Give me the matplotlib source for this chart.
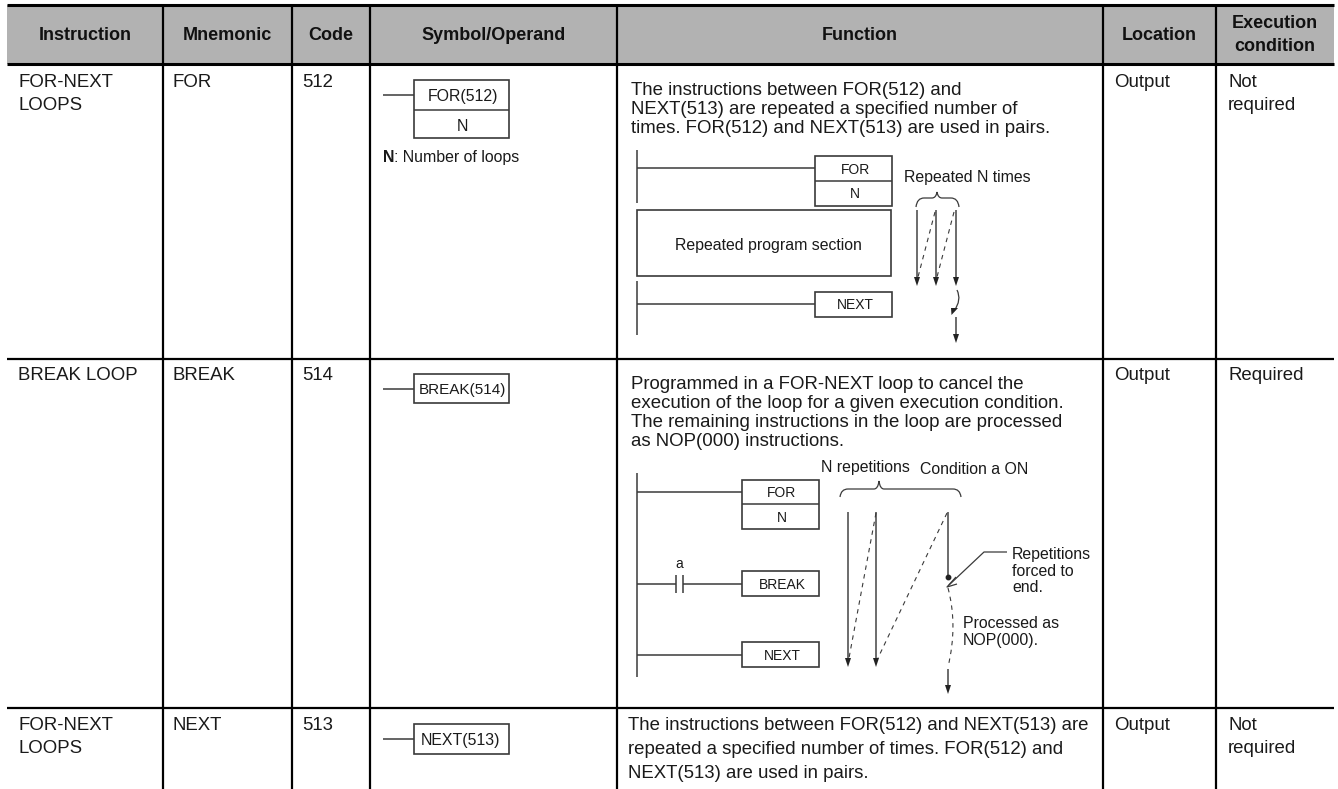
import matplotlib
matplotlib.use("Agg")
import matplotlib.pyplot as plt
from matplotlib.path import Path
from matplotlib.patches import PathPatch, Rectangle

plt.rcParams['font.family'] = ['Liberation Sans', 'DejaVu Sans']

# table content
headers = ["Instruction", "Mnemonic", "Code", "Symbol/Operand", "Function", "Location", "Execution\ncondition"]
instruction = ["FOR-NEXT\nLOOPS", "BREAK LOOP", "FOR-NEXT\nLOOPS"]
mnemonic = ["FOR", "BREAK", "NEXT"]
code = ["512", "514", "513"]
location = ["Output", "Output", "Output"]
condition = ["Not\nrequired", "Required", "Not\nrequired"]
func_1 = ["The instructions between FOR(512) and", "NEXT(513) are repeated a specified number of",
          "times. FOR(512) and NEXT(513) are used in pairs."]
func_2 = ["Programmed in a FOR-NEXT loop to cancel the", "execution of the loop for a given execution condition.",
          "The remaining instructions in the loop are processed", "as NOP(000) instructions."]
func_3 = ["The instructions between FOR(512) and NEXT(513) are", "repeated a specified number of times. FOR(512) and",
          "NEXT(513) are used in pairs."]

# table grid, pixels
col_x = [7, 163, 292, 370, 617, 1103, 1216, 1334]
row_y = [5, 64, 359, 708, 789]
row_text_y = [82, 375, 725]

fig = plt.figure(figsize=(13.38, 7.89), dpi=100)
ax = fig.add_axes([0, 0, 1, 1])
ax.set_xlim(0, 1338)
ax.set_ylim(789, 0)
ax.axis("off")

DARK = "#3a3a3a"
TXT = "#1a1a1a"
FS = 13.4
SMALL = 11.4
BOX = 10
LW = 1.1


def line(xs, ys, lw=LW, ls="-", color=DARK):
    ax.plot(xs, ys, color=color, lw=lw, ls=ls, solid_capstyle="butt", zorder=3)


def box(x0, y0, x1, y1):
    ax.add_patch(Rectangle((x0, y0), x1 - x0, y1 - y0, fc="white", ec=DARK, lw=1.2, zorder=3))


def arrow(x, y0, y1):
    line([x, x], [y0, y1 - 6], color="#444444")
    ax.fill([x - 3, x + 3, x], [y1 - 9, y1 - 9, y1], color="#222222", zorder=4, lw=0)


def brace(x0, xm, x1, y_end, y_top, y_tip):
    verts = [(x0, y_end), (x0 + 1, y_top), (x0 + 8, y_top), (xm - 5, y_top), (xm - 1, y_top), (xm, y_tip),
             (xm + 1, y_top), (xm + 5, y_top), (x1 - 8, y_top), (x1 - 1, y_top), (x1, y_end)]
    codes = [Path.MOVETO, Path.CURVE3, Path.CURVE3, Path.LINETO, Path.CURVE3, Path.CURVE3,
             Path.CURVE3, Path.CURVE3, Path.LINETO, Path.CURVE3, Path.CURVE3]
    ax.add_patch(PathPatch(Path(verts, codes), fc="none", ec=DARK, lw=0.9, zorder=3))


# header band and grid
ax.add_patch(Rectangle((col_x[0], row_y[0]), col_x[-1] - col_x[0], row_y[1] - row_y[0], fc="#b2b2b2", ec="none", zorder=1))
for x in col_x[1:-1]:
    ax.plot([x, x], [row_y[0], 789], color="black", lw=1.6, solid_capstyle="butt", zorder=2)
ax.plot([col_x[0], col_x[-1]], [row_y[0]] * 2, color="black", lw=2.2, solid_capstyle="butt", zorder=2)
ax.plot([col_x[0], col_x[-1]], [row_y[1]] * 2, color="black", lw=2.2, solid_capstyle="butt", zorder=2)
for y in row_y[2:4]:
    ax.plot([col_x[0], col_x[-1]], [y, y], color="black", lw=1.6, solid_capstyle="butt", zorder=2)

for i, h in enumerate(headers):
    parts = h.split("\n")
    for j, part in enumerate(parts):
        y = 35 + (j - (len(parts) - 1) / 2) * 23
        ax.text((col_x[i] + col_x[i + 1]) / 2, y, part, ha="center", va="center", fontsize=13, fontweight="bold",
                color="#111111")

for i in range(3):
    y = row_text_y[i]
    for x, s in [(18, instruction[i]), (173, mnemonic[i]), (302, code[i]), (1114, location[i]), (1228, condition[i])]:
        for j, part in enumerate(s.split("\n")):
            ax.text(x, y + j * 23.5, part, va="center", fontsize=FS, color=TXT)

# symbol column
box(414, 80, 509, 138)
line([414, 509], [110, 110])
line([383, 414], [95, 95])
ax.text(463, 96, "FOR(512)", ha="center", va="center", fontsize=SMALL, color=TXT)
ax.text(462, 126, "N", ha="center", va="center", fontsize=SMALL, color=TXT)
ax.text(383, 157, "N", va="center", fontsize=SMALL, fontweight="bold", color=TXT)
ax.text(394, 157, ": Number of loops", va="center", fontsize=SMALL, color=TXT)

box(414, 374, 509, 403)
line([383, 414], [389, 389])
ax.text(462, 390, "BREAK(514)", ha="center", va="center", fontsize=11, color=TXT)

box(414, 724, 509, 754)
line([383, 414], [739, 739])
ax.text(461, 740, "NEXT(513)", ha="center", va="center", fontsize=SMALL, color=TXT)

# function column text
for j, s in enumerate(func_1):
    ax.text(631, 90 + j * 19.2, s, va="center", fontsize=FS, color=TXT)
for j, s in enumerate(func_2):
    ax.text(631, 384 + j * 19.2, s, va="center", fontsize=FS, color=TXT)
for j, s in enumerate(func_3):
    ax.text(628, 726 + j * 23.7, s, va="center", fontsize=FS, color=TXT)

# first ladder
line([637, 637], [150, 203])
line([637, 815], [168, 168])
box(815, 156, 892, 206)
line([815, 892], [181, 181])
ax.text(855, 170, "FOR", ha="center", va="center", fontsize=BOX, color=TXT)
ax.text(855, 194, "N", ha="center", va="center", fontsize=BOX, color=TXT)
box(637, 210, 891, 276)
ax.text(768, 245, "Repeated program section", ha="center", va="center", fontsize=SMALL, color=TXT)
line([637, 637], [281, 335])
line([637, 815], [304, 304])
box(815, 292, 892, 317)
ax.text(855, 305, "NEXT", ha="center", va="center", fontsize=BOX, color=TXT)
ax.text(904, 177, "Repeated N times", va="center", fontsize=SMALL, color=TXT)
brace(916, 937, 959, 207, 198, 192)
for x in [917, 936, 956]:
    arrow(x, 210, 286)
line([935, 918], [212, 277], lw=0.8, ls=(0, (4, 4)))
line([954, 937], [212, 277], lw=0.8, ls=(0, (4, 4)))
ax.add_patch(PathPatch(Path([(957, 290), (962, 300), (954, 311)], [Path.MOVETO, Path.CURVE3, Path.CURVE3]),
                       fc="none", ec=DARK, lw=0.9, zorder=3))
ax.fill([958, 951, 951.5], [308, 308, 315], color="#222222", zorder=4, lw=0)
arrow(956, 317, 343)

# second ladder
line([637, 637], [473, 677])
line([637, 742], [492, 492])
box(742, 480, 819, 529)
line([742, 819], [504, 504])
ax.text(782, 493, "FOR", ha="center", va="center", fontsize=BOX, color=TXT)
ax.text(782, 518, "N", ha="center", va="center", fontsize=BOX, color=TXT)
line([637, 676], [584, 584])
line([683, 742], [584, 584])
line([676, 676], [575, 593])
line([683, 683], [575, 593])
ax.text(679, 564, "a", ha="center", va="center", fontsize=BOX, color=TXT)
box(742, 571, 819, 596)
ax.text(782, 585, "BREAK", ha="center", va="center", fontsize=BOX, color=TXT)
line([637, 742], [655, 655])
box(742, 642, 819, 667)
ax.text(782, 656, "NEXT", ha="center", va="center", fontsize=BOX, color=TXT)

ax.text(821, 467, "N repetitions", va="center", fontsize=SMALL, color=TXT)
ax.text(920, 469, "Condition a ON", va="center", fontsize=SMALL, color=TXT)
brace(840, 879, 961, 497, 489, 481)
arrow(848, 512, 667)
arrow(876, 512, 667)
line([948, 948], [512, 577], color="#444444")
ax.plot([948], [577], "o", color="#222222", ms=3.2, zorder=4)
line([876, 849], [513, 658], lw=0.8, ls=(0, (4, 4)))
line([947, 878], [513, 658], lw=0.8, ls=(0, (4, 4)))
ax.add_patch(PathPatch(Path([(948, 588), (958, 625), (948, 667)], [Path.MOVETO, Path.CURVE3, Path.CURVE3]),
                       fc="none", ec=DARK, lw=0.8, ls=(0, (4, 4)), zorder=3))
arrow(948, 669, 694)
line([1007, 984, 949], [552, 552, 585], lw=0.9)
line([956, 947, 957], [577, 587, 584], lw=0.9)
for y, s in zip([555, 571, 588], ["Repetitions", "forced to", "end."]):
    ax.text(1012, y, s, va="center", fontsize=SMALL, color=TXT)
for y, s in zip([623, 641], ["Processed as", "NOP(000)."]):
    ax.text(963, y, s, va="center", fontsize=SMALL, color=TXT)

fig.savefig("out.png", dpi=100, facecolor="white")
